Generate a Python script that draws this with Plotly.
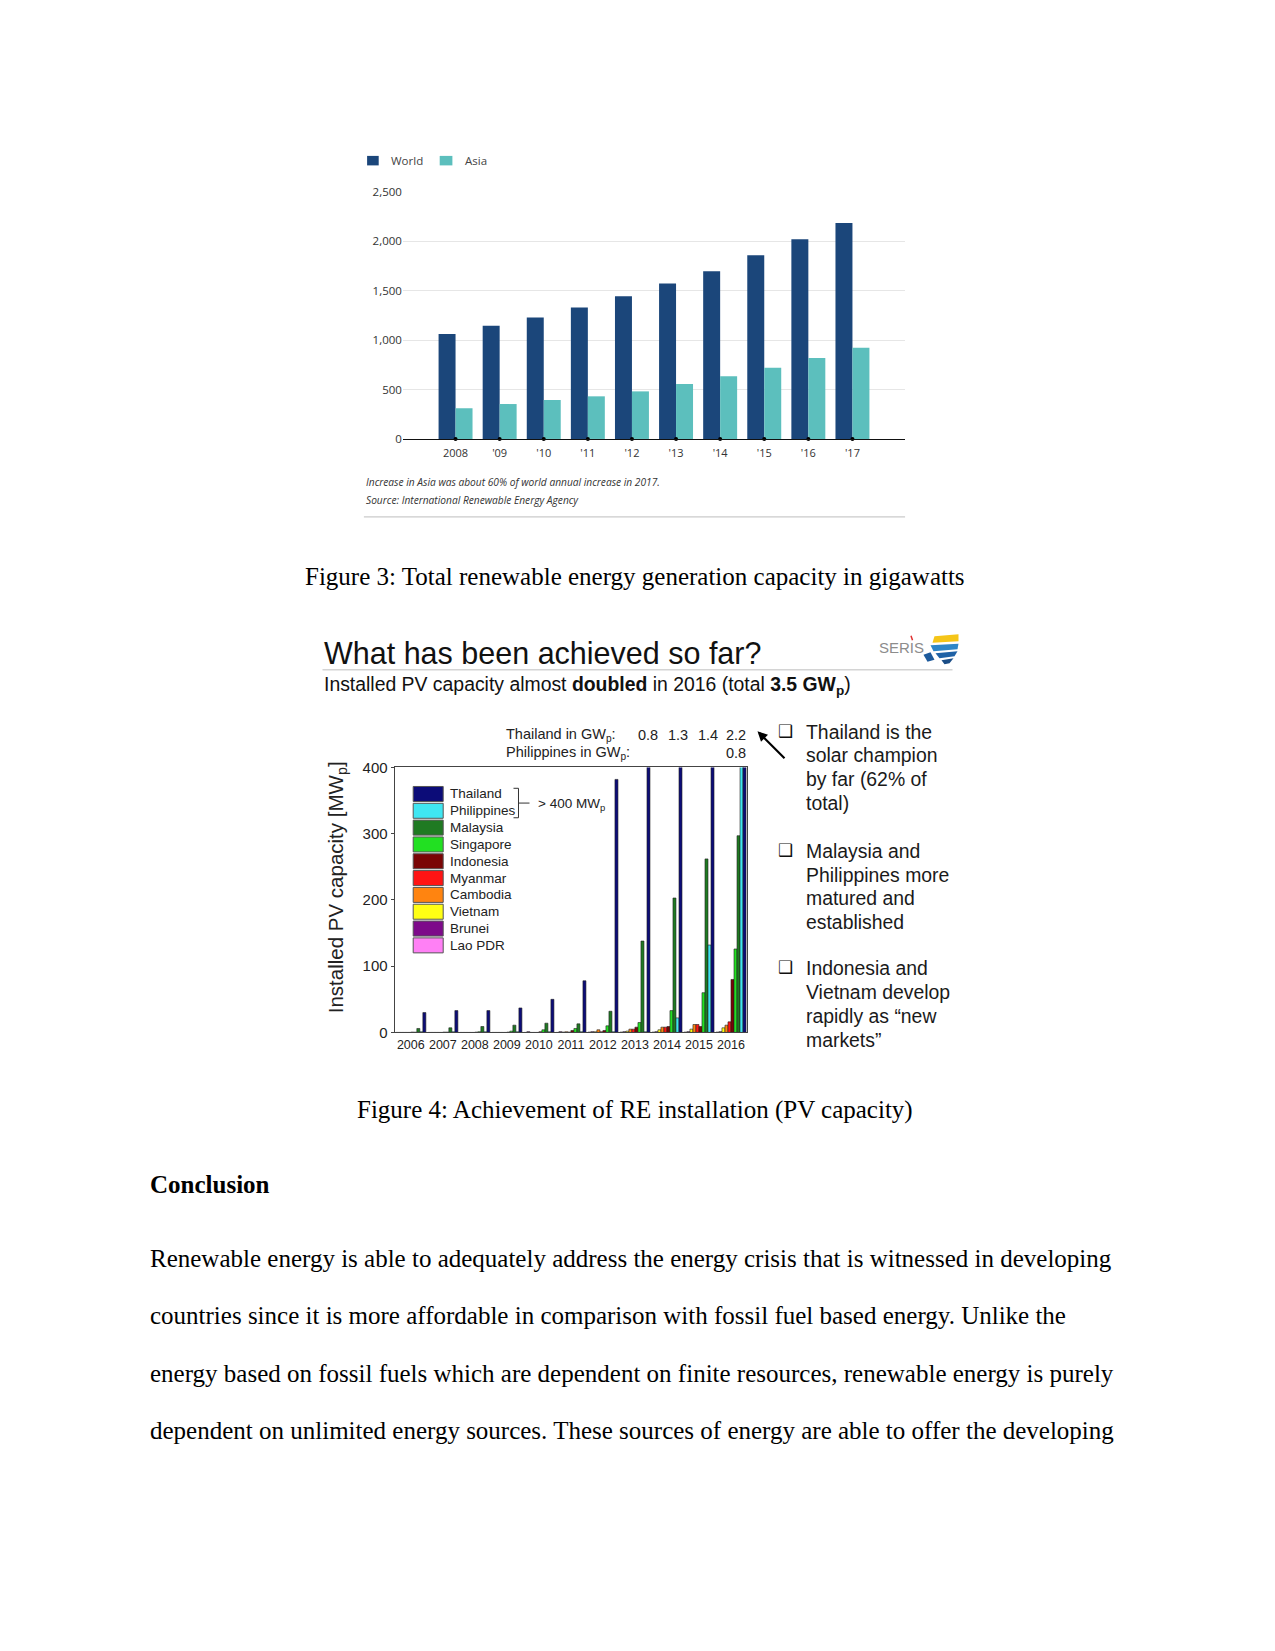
import plotly.graph_objects as go

# page is 1275x1651; the html body has an 8px margin, so the figure covers 8..1267 / 8..1643
PAGE_OFF = 8
W, H = 1275 - 2 * PAGE_OFF, 1651 - 2 * PAGE_OFF


def cx(x):
    # small calibration of page positions
    return x - 2.5


def cy(y):
    return 152.6 + 1.01 * (y - 160)


def fx(x):
    return (cx(x) - PAGE_OFF) / W


def fy(y):
    return 1 - (cy(y) - PAGE_OFF) / H


# ---------------- Figure 3 data ----------------
cap_years = ["2008", "'09", "'10", "'11", "'12", "'13", "'14", "'15", "'16", "'17"]
world_gw = [1060, 1144, 1228, 1329, 1443, 1571, 1696, 1857, 2019, 2184]
asia_gw = [310, 353, 394, 431, 481, 555, 633, 720, 818, 922]
cap_ticks = [0, 500, 1000, 1500, 2000, 2500]

# ---------------- Figure 4 data ----------------
pv_years = ["2006", "2007", "2008", "2009", "2010", "2011", "2012", "2013", "2014", "2015", "2016"]
countries = ["Thailand", "Philippines", "Malaysia", "Singapore", "Indonesia",
             "Myanmar", "Cambodia", "Vietnam", "Brunei", "Lao PDR"]
thailand = [30, 33, 33, 37, 50, 78, 382, 800, 1300, 1400, 2200]
philippines = [1, 1, 1, 1, 1, 1, 1, 1, 22, 132, 800]
malaysia = [6, 7, 9, 11, 14, 13, 32, 138, 203, 262, 297]
singapore = [0.4, 0.5, 1, 2, 4, 6, 10, 15, 33, 60, 126]
indonesia = [0.5, 0.5, 0.5, 0.5, 1, 3, 3, 8, 9, 9, 80]
myanmar = [0, 0, 0, 0, 0, 0.5, 1, 5, 8, 12, 16]
cambodia = [0, 0, 0, 0, 0, 1, 4, 5, 8, 12, 11]
vietnam = [0, 0, 0, 0, 0, 0.5, 1, 2, 4, 5, 7]
brunei = [0, 0, 0, 0, 1.2, 1.2, 1.2, 1.2, 1.2, 1.2, 1.2]
lao_pdr = [0, 0, 0, 0, 0, 0, 0.5, 0.5, 0.5, 0.5, 0.5]
pv_ticks = [0, 100, 200, 300, 400]
thai_gw_labels = ["0.8", "1.3", "1.4", "2.2"]
phil_gw_labels = ["0.8"]

series = {
    "Thailand": thailand, "Philippines": philippines, "Malaysia": malaysia,
    "Singapore": singapore, "Indonesia": indonesia, "Myanmar": myanmar,
    "Cambodia": cambodia, "Vietnam": vietnam, "Brunei": brunei, "Lao PDR": lao_pdr,
}
colors = {
    "Thailand": "#0c0c78", "Philippines": "#3fe6f2", "Malaysia": "#1f7a22",
    "Singapore": "#22e022", "Indonesia": "#7a0505", "Myanmar": "#ff1414",
    "Cambodia": "#ff8410", "Vietnam": "#ffff14", "Brunei": "#7d0a8a", "Lao PDR": "#ff80f5",
}

fig = go.Figure()

# ---- Figure 3 bars ----
bw3 = 0.385
fig.add_trace(go.Bar(x=cap_years, y=world_gw, width=bw3, offset=-bw3,
                     marker=dict(color="#1b467a", line=dict(width=0)),
                     xaxis="x", yaxis="y", showlegend=False))
fig.add_trace(go.Bar(x=cap_years, y=asia_gw, width=bw3, offset=0,
                     marker=dict(color="#5cbfbd", line=dict(width=0)),
                     xaxis="x", yaxis="y", showlegend=False))
fig.add_trace(go.Scatter(x=cap_years, y=[0] * len(cap_years), mode="markers",
                         marker=dict(color="black", size=4), cliponaxis=False,
                         xaxis="x", yaxis="y", showlegend=False, hoverinfo="skip"))

# ---- Figure 4 bars (left-to-right order is reverse of legend) ----
order = list(reversed(countries))
bw4 = 0.094
start = -0.47
for i, c in enumerate(order):
    fig.add_trace(go.Bar(x=pv_years, y=series[c], width=bw4, offset=start + i * bw4,
                         marker=dict(color=colors[c], line=dict(width=0.6, color="#222222")),
                         xaxis="x2", yaxis="y2", showlegend=False, name=c))

shapes = []
annotations = []

SERIF = "Liberation Serif, Times New Roman, serif"
SANS = "Liberation Sans, Arial, sans-serif"
OPEN = "Open Sans, Lato, sans-serif"


def text(x, y, s, size, family, color="#000", xanchor="left", yanchor="middle", **kw):
    annotations.append(dict(x=fx(x), y=fy(y), xref="paper", yref="paper", text=s,
                            showarrow=False, xanchor=xanchor, yanchor=yanchor,
                            font=dict(size=size, family=family, color=color), **kw))


def rect(x0, y0, x1, y1, fill, line="rgba(0,0,0,0)", lw=0):
    shapes.append(dict(type="rect", xref="paper", yref="paper", x0=fx(x0), x1=fx(x1),
                       y0=fy(y1), y1=fy(y0), fillcolor=fill, line=dict(color=line, width=lw)))


def line(x0, y0, x1, y1, color, width):
    shapes.append(dict(type="line", xref="paper", yref="paper", x0=fx(x0), x1=fx(x1),
                       y0=fy(y0), y1=fy(y1), line=dict(color=color, width=width)))


def path(pts, fill, lc=None, lw=0, closed=True):
    d = "M " + " L ".join(f"{fx(a):.5f},{fy(b):.5f}" for a, b in pts) + (" Z" if closed else "")
    shapes.append(dict(type="path", xref="paper", yref="paper", path=d,
                       fillcolor=fill, line=dict(color=lc or "rgba(0,0,0,0)", width=lw)))


# ---- Figure 3 legend & notes ----
rect(369.6, 155.8, 381.2, 165.3, "#1b467a")
text(391.7, 160.5, "World", 11.5, OPEN, "#444")
rect(442.2, 155.8, 454.9, 165.3, "#5cbfbd")
text(465.4, 160.5, "Asia", 11.5, OPEN, "#444")
text(366.4, 482.5, "<i>Increase in Asia was about 60% of world annual increase in 2017.</i>", 10.2, OPEN, "#333")
text(366.4, 500, "<i>Source: International Renewable Energy Agency</i>", 10.2, OPEN, "#333")
line(366.4, 517, 907.6, 517, "#bdbdbd", 1)

# ---- document text ----
text(637.5, 577, "Figure 3: Total renewable energy generation capacity in gigawatts", 25, SERIF, "#000", xanchor="center")
text(637.5, 1110, "Figure 4: Achievement of RE installation (PV capacity)", 25, SERIF, "#000", xanchor="center")
text(150.6, 1184.5, "<b>Conclusion</b>", 25, SERIF, "#000")
body = [
    "Renewable energy is able to adequately address the energy crisis that is witnessed in developing",
    "countries since it is more affordable in comparison with fossil fuel based energy. Unlike the",
    "energy based on fossil fuels which are dependent on finite resources, renewable energy is purely",
    "dependent on unlimited energy sources. These sources of energy are able to offer the developing",
]
for i, s in enumerate(body):
    text(150.6, [1259.3, 1316, 1374, 1431][i], s, 25, SERIF, "#000")

# ---- Figure 4 slide header ----
text(324, 653, "What has been achieved so far?", 30.5, SANS, "#111")
line(325, 670, 955, 670, "#d4d4d4", 1.5)
text(324, 686, "Installed PV capacity almost <b>doubled</b> in 2016 (total <b>3.5 GW<sub>p</sub></b>)", 19.4, SANS, "#111")
# SERIS logo
text(879, 648, "SERIS", 15, SANS, "#8c8c8c")
line(913.5, 636, 915, 640.5, "#e03030", 1.5)
path([(937, 636.5), (961, 634.5), (961, 641.5), (935, 643)], "#f5c518")
path([(933, 645.5), (961, 644), (960, 649.5), (936, 651.5)], "#2e86c8")
path([(938, 653.5), (960, 651.5), (957, 656.5), (942, 658.5)], "#1f62a6")
path([(944, 660.5), (956, 658.5), (952, 663.5), (947, 664.5)], "#1a4d86")
path([(926, 655), (933, 652.5), (937, 660), (930, 662)], "#1d5a9c")

# ---- Figure 4 annotations ----
text(506.5, 735, "Thailand in GW<sub>p</sub>:", 14.5, SANS, "#222")
text(506.5, 753, "Philippines in GW<sub>p</sub>:", 14.5, SANS, "#222")
for xv, s in zip([650, 680.5, 710.5, 738], thai_gw_labels):
    text(xv, 735, s, 14.5, SANS, "#222", xanchor="center")
for xv, s in zip([738], phil_gw_labels):
    text(xv, 753, s, 14.5, SANS, "#222", xanchor="center")
annotations.append(dict(x=fx(760), y=fy(731.5), xref="paper", yref="paper", ax=30, ay=30,
                        axref="pixel", ayref="pixel", text=" ", showarrow=True,
                        arrowhead=2, arrowsize=0.9, arrowwidth=2.2, arrowcolor="#000"))

# legend inside plot
for i, c in enumerate(countries):
    y0 = 786.7 + i * 16.83
    rect(415.7, y0, 445.7, y0 + 15, colors[c], "#555", 1)
    text(450, y0 + 7.5, c, 13.5, SANS, "#222")
path([(516, 788.5), (521, 788.5), (521, 818), (516, 818)], "rgba(0,0,0,0)", "#333", 1, closed=False)
line(521, 803.3, 532, 803.3, "#333", 1)
text(538, 805, "&gt; 400 MW<sub>p</sub>", 13.5, SANS, "#222")
text(339, 888, "Installed PV capacity [MW<sub>p</sub>]", 20.5, SANS, "#222", xanchor="center", textangle=-90)

# bullet panel
bullets = [
    (["Thailand is the", "solar champion", "by far (62% of", "total)"], [732, 755.7, 779.3, 803]),
    (["Malaysia and", "Philippines more", "matured and", "established"], [851, 874.8, 898.3, 922]),
    (["Indonesia and", "Vietnam develop", "rapidly as \u201cnew", "markets\u201d"], [968.7, 992.5, 1016.3, 1040]),
]
for lines_, ys in bullets:
    text(787.5, ys[0] - 1, "\u2751", 17, "DejaVu Sans, sans-serif", "#111", xanchor="center")
    for s, yv in zip(lines_, ys):
        text(806.5, yv, s, 19.4, SANS, "#1a1a1a")

fig.update_layout(
    width=W, height=H, margin=dict(l=0, r=0, t=0, b=0),
    paper_bgcolor="white", plot_bgcolor="white",
    barmode="overlay", shapes=shapes, annotations=annotations,
    xaxis=dict(domain=[fx(405.4), fx(907.6)], type="category", categoryorder="array",
               categoryarray=cap_years, range=[-1.194, 10.194], showgrid=False,
               showline=True, linecolor="#111", linewidth=1.2, ticks="", zeroline=False,
               tickfont=dict(family=OPEN, size=11, color="#333"), ticklabelstandoff=4),
    yaxis=dict(domain=[fy(439), fy(191.6)], range=[0, 2500], tickvals=cap_ticks,
               tickformat=",d", showgrid=True, gridcolor="#e6e6e6", gridwidth=1,
               zeroline=False, showline=False, ticks="",
               tickfont=dict(family=OPEN, size=11.5, color="#333")),
    xaxis2=dict(domain=[fx(397.3), fx(749.5)], type="category", categoryorder="array",
                categoryarray=pv_years, range=[-0.5, 10.5], showgrid=False,
                showline=True, mirror=True, linecolor="#444", linewidth=1.3, ticks="",
                zeroline=False, anchor="y2",
                tickfont=dict(family=SANS, size=12.5, color="#222")),
    yaxis2=dict(domain=[fy(1032.8), fy(767.7)], range=[0, 400], tickvals=pv_ticks,
                showgrid=False, showline=True, mirror=True, linecolor="#444", linewidth=1.3,
                ticks="outside", ticklen=3, tickcolor="#444", zeroline=False, anchor="x2",
                tickfont=dict(family=SANS, size=15, color="#222")),
)

fig.write_html("out.html")
